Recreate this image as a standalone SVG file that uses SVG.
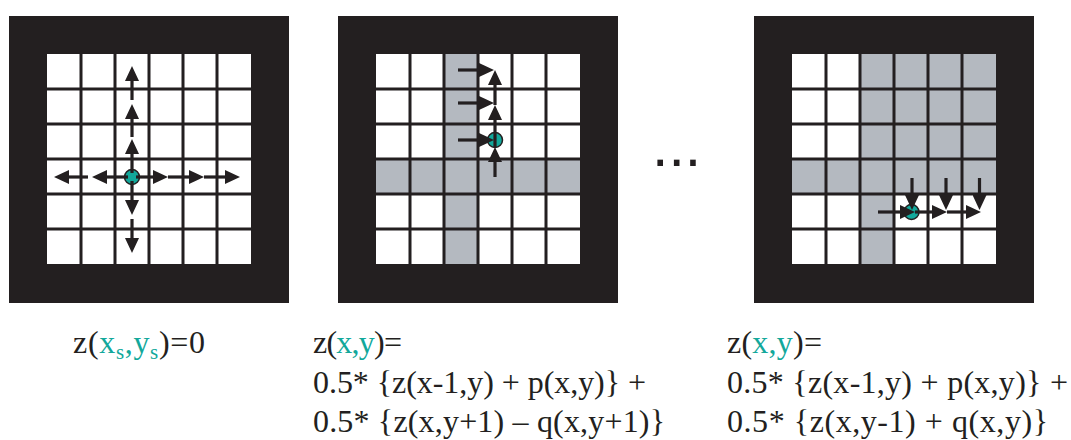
<svg xmlns="http://www.w3.org/2000/svg" xmlns:xlink="http://www.w3.org/1999/xlink" width="1071" height="440" viewBox="0 0 1071 440">
<style>
.frame{fill:#231f20}
.cellbg{fill:#ffffff}
.gray{fill:#b4b9c0}
.gl{stroke:#231f20;stroke-width:3;fill:none}
.dot{fill:#12a89b;stroke:#231f20;stroke-width:1.5}
.ar{stroke:#231f20;stroke-width:3.2;fill:none;marker-end:url(#ah)}
.f{font-family:"Liberation Serif","Times New Roman",serif;font-size:32px;fill:#231f20}
.t{fill:#12a89b}
</style>
<defs>
<marker id="ah" viewBox="0 0 15 14" refX="7" refY="7" markerWidth="15" markerHeight="14" markerUnits="userSpaceOnUse" orient="auto">
<path d="M0,0 L15,7 L0,14 Z" fill="#231f20"/>
</marker>
<g id="gridlines">
<path class="gl" d="M34,0V210M68,0V210M102,0V210M136,0V210M170,0V210M0,35H204M0,70H204M0,105H204M0,140H204M0,175H204"/>
</g>
</defs>
<rect width="1071" height="440" fill="#ffffff"/>

<g id="panel1">
<rect class="frame" x="9" y="16" width="280" height="287"/>
<rect class="cellbg" x="47" y="54" width="204" height="210"/>
<use xlink:href="#gridlines" x="47" y="54"/>
<circle class="dot" cx="132" cy="177" r="7.5"/>
</g>

<g id="panel2">
<rect class="frame" x="338" y="16" width="280" height="287"/>
<rect class="cellbg" x="376" y="54" width="204" height="210"/>
<rect class="gray" x="444" y="54" width="34" height="210"/>
<rect class="gray" x="376" y="159" width="204" height="35"/>
<use xlink:href="#gridlines" x="376" y="54"/>
<circle class="dot" cx="495" cy="140" r="7.5"/>
</g>

<g id="ellipsis">
<text x="652" y="165.5" font-family="Liberation Sans, Arial, sans-serif" font-size="59" fill="#231f20">...</text>
</g>

<g id="panel3">
<rect class="frame" x="754" y="16" width="280" height="287"/>
<rect class="cellbg" x="792" y="54" width="204" height="210"/>
<rect class="gray" x="860" y="54" width="136" height="140"/>
<rect class="gray" x="792" y="159" width="68" height="35"/>
<rect class="gray" x="860" y="194" width="34" height="70"/>
<use xlink:href="#gridlines" x="792" y="54"/>
<circle class="dot" cx="911.5" cy="212" r="7.5"/>
</g>

<g id="connectors">
<path class="ar" d="M136,177H160"/>
<path class="ar" d="M168,177H196"/>
<path class="ar" d="M204,177H232"/>
<path class="ar" d="M128,177H100"/>
<path class="ar" d="M88,177H62"/>
<path class="ar" d="M132,173V147"/>
<path class="ar" d="M132,137V112"/>
<path class="ar" d="M132,100V74"/>
<path class="ar" d="M132,181V207"/>
<path class="ar" d="M132,219V245"/>

<path class="ar" d="M495,177V155"/>
<path class="ar" d="M495,147V113"/>
<path class="ar" d="M495,105V78"/>
<path class="ar" d="M458,70H486"/>
<path class="ar" d="M458,103H486"/>
<path class="ar" d="M458,140H486"/>

<path class="ar" d="M878,212H907"/>
<path class="ar" d="M915,212H939"/>
<path class="ar" d="M947,212H973"/>
<path class="ar" d="M912,178V202"/>
<path class="ar" d="M946,178V202"/>
<path class="ar" d="M979.5,178V202"/>
</g>

<g id="label1">
<text class="f" x="73" y="353" textLength="132" lengthAdjust="spacing">z(<tspan class="t">x</tspan><tspan class="t" dy="6" font-size="21">s</tspan><tspan class="t" dy="-6">,y</tspan><tspan class="t" dy="6" font-size="21">s</tspan><tspan dy="-6">)=0</tspan></text>
</g>

<g id="label2">
<text class="f" x="313" y="353" textLength="89" lengthAdjust="spacing">z(<tspan class="t">x,y</tspan>)=</text>
<text class="f" x="313" y="393" textLength="333" lengthAdjust="spacing">0.5* {z(x-1,y) + p(x,y)} +</text>
<text class="f" x="313" y="432" textLength="352" lengthAdjust="spacing">0.5* {z(x,y+1) – q(x,y+1)}</text>
</g>

<g id="label3">
<text class="f" x="727" y="353" textLength="95" lengthAdjust="spacing">z(<tspan class="t">x,y</tspan>)=</text>
<text class="f" x="727" y="393" textLength="341" lengthAdjust="spacing">0.5* {z(x-1,y) + p(x,y)} +</text>
<text class="f" x="727" y="432" textLength="321" lengthAdjust="spacing">0.5* {z(x,y-1) + q(x,y)}</text>
</g>
</svg>
